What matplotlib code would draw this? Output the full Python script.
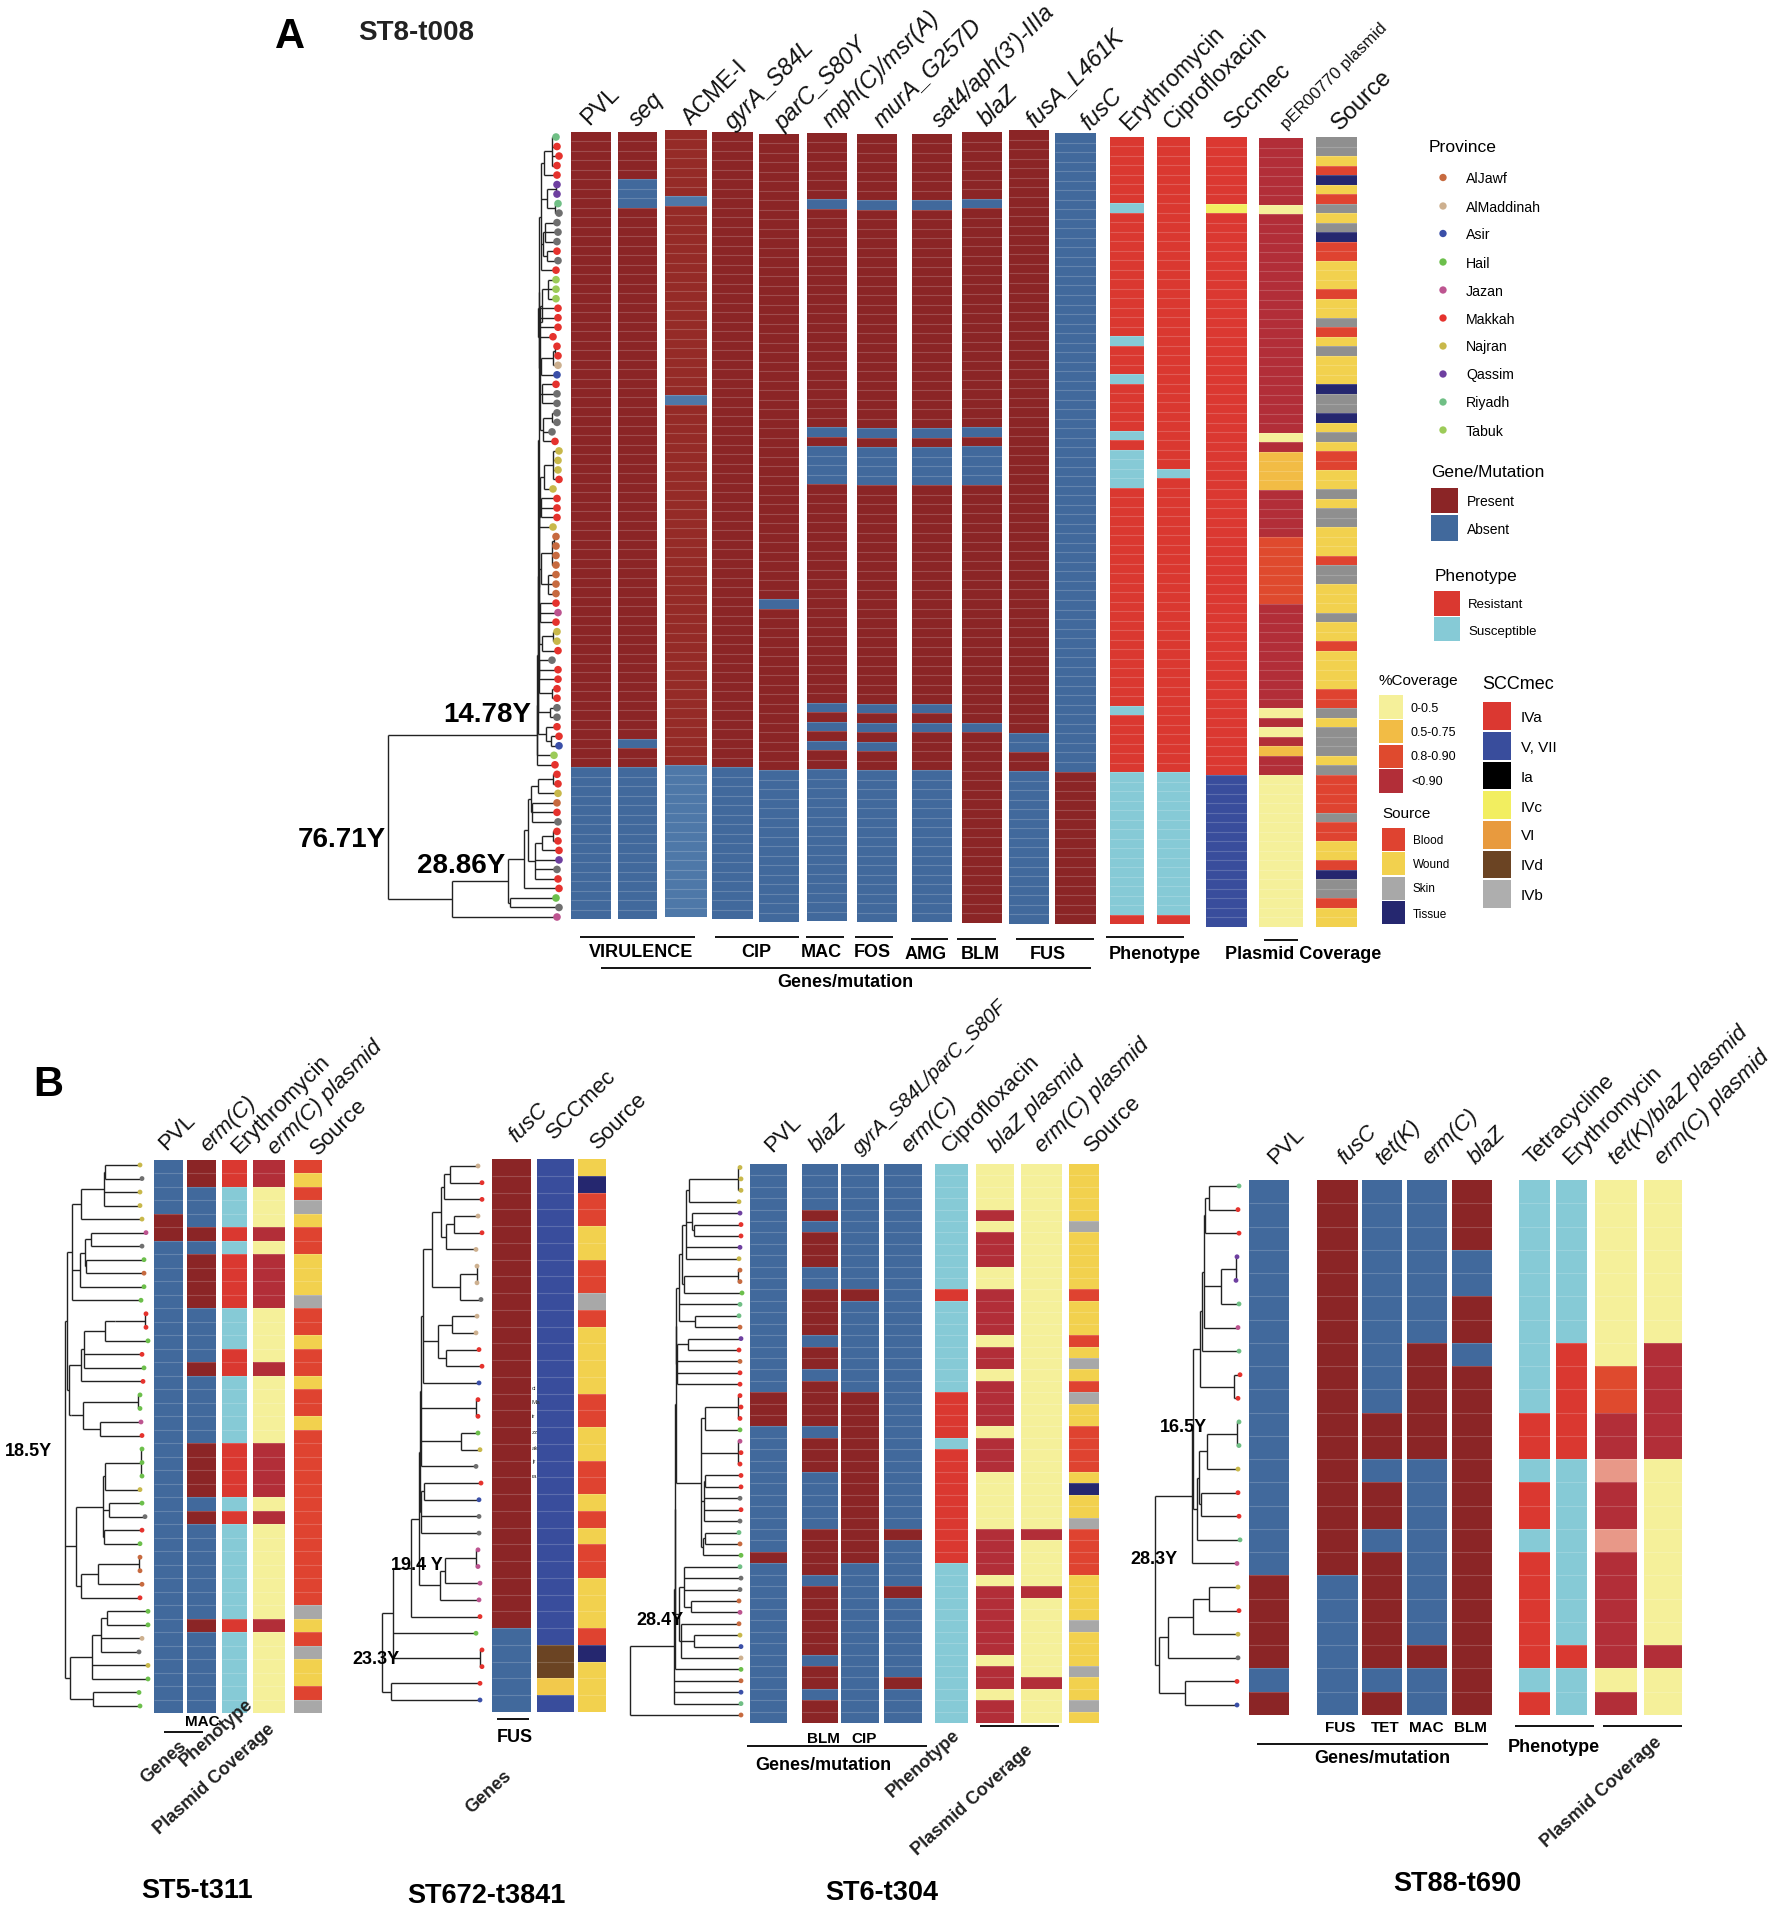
import numpy as np
import matplotlib
matplotlib.use("Agg")
import matplotlib.pyplot as plt
from matplotlib.collections import LineCollection

plt.rcParams['font.family'] = ['Liberation Sans', 'DejaVu Sans']

# colours of the heatmap cells
cell_colors = {
    'P': '#8B2526', 'A': '#41699C', 'p': '#952B27', 'a': '#4E78A8',
    'R': '#DA3830', 'S': '#86CAD6',
    'D': '#B22E38', 'Y': '#F5F09A', 'O': '#F2BC45', 'E': '#DF4A2E', 'K': '#E89888',
    'B': '#DF4330', 'W': '#F2D14E', 'G': '#A8A8A8', 'g': '#8F8F8F', 'T': '#25276F',
    '4': '#DB3831', '5': '#394D9C', 'c': '#F2EE60', 'd': '#6B4423', 'w': '#F2C94C',
}
tip_colors = {
    'J': '#C76A3F', 'L': '#CDB08F', 'I': '#3A4FA8', 'H': '#6CBF4B', 'Z': '#BD5490',
    'M': '#E5322D', 'N': '#C8B84A', 'Q': '#6E3FA0', 'F': '#70BF85', 'U': '#9CCB58',
    'x': '#6F6F6F',
}

# ---- panel A data (runs: code + number of rows)
a_names = ['PVL', 'seq', 'ACME-I', 'gyrA_S84L', 'parC_S80Y', 'mph(C)/msr(A)', 'murA_G257D',
           "sat4/aph(3')-IIIa", 'blaZ', 'fusA_L461K', 'fusC', 'Erythromycin', 'Ciprofloxacin',
           'Sccmec', 'pER00770 plasmid', 'Source']
a_pvl = "P67 A16"
a_seq = "P5 A3 P56 A1 P2 A16"
a_acme = "p7 a1 p20 a1 p38 a16"
a_gyra = "P67 A16"
a_parc = "P49 A1 P17 A16"
a_mph = "P7 A1 P23 A1 P1 A4 P23 A1 P1 A1 P1 A1 P2 A16"
a_mura = "P7 A1 P23 A1 P1 A4 P23 A1 P1 A1 P1 A1 P2 A16"
a_sat4 = "P7 A1 P23 A1 P1 A4 P23 A1 P1 A1 P4 A16"
a_blaz = "P7 A1 P23 A1 P1 A4 P25 A1 P20"
a_fusa = "P63 A2 P2 A16"
a_fusc = "A67 P16"
a_ery = "R7 S1 R13 S1 R3 S1 R5 S1 R1 S4 R23 S1 R6 S15 R1"
a_cip = "R35 S1 R31 S15 R1"
a_scc = "47 c1 459 516"
a_per = "D7 Y1 D23 Y1 D1 O4 D5 E7 D11 Y1 D1 Y1 D1 O1 D2 Y16"
a_src = ("g2 W1 B1 T1 W1 B1 g1 W1 g1 T1 B2 W3 B1 W2 g1 B1 W1 g1 W3 T1 g2 T1 W1 g1 W1 B2 W2 g1 "
         "W1 g2 W3 B1 g2 W3 g1 W2 B1 W4 B2 g1 W1 g3 W1 g1 B4 g1 B2 W2 B1 T1 g2 B1 W2")
a_tips = ("F M M M M Q Q F x x x x M x M U U U M M M M M M L I M x x x x x M N N N M N "
          "M M M N J J J J J J J M Z M N N M x M M M M x x M M I U M "
          "M M N J M x M M M Q x M M H x Z")
a_tree = (388,
          (537,
           (537.5,
            (538,
             (538.5,
              (538.8,
               (539,
                (541, (544, (552, 556, 557, 559, 557), 557), (547, (556, 557, 557), (555, 558, 559)),
                 (543, (545, 557, 558, 557), (547, 557, 558)), 556),
                (540, (542, (548, 556, 556, 556), (538, 558, 558, 558, 553)),
                 (541, (553, (555, 557, 558), 558), 557),
                 (542, 556, 557, 557), (543, (552, 557, 557), 552, 555))),
               (539,
                (540, (544, (553, 559, 558, 558, 559), 553), (539, (541, 557, 557, 557), 553)),
                (539, (541, (552, (554, 556, 556), 556, 556), (548, 556, 556, 556)), (540, 556, 558, 556),
                 (542, (553, 557, 557), 558)),
                (539, 552, 558, 558, (552, 557, 557)))),
              (550, 557, 557)),
             (546, 557, (551, 559, 559))),
            554),
           555),
          (452,
           (508,
            (524,
             (528, (531, (538, (553, 557, 558), 558), (532, 557, 557, 558)),
              (535, (542, (553, 557, 558), 559), 559, 557, 558)),
             559),
            (510, 556, 559)),
           557))

# ---- panel B, ST5-t311
st5_names = ['PVL', 'erm(C)', 'Erythromycin', 'erm(C) plasmid', 'Source']
st5_pvl = "A4 P2 A35"
st5_erm = "P2 A3 P1 A1 P4 A4 P1 A5 P4 A1 P1 A7 P1 A6"
st5_ery = "R2 S3 R1 S1 R4 S3 R2 S5 R4 S1 R1 S7 R1 S6"
st5_pla = "D2 Y3 D1 Y1 D4 Y4 D1 Y5 D4 Y1 D1 Y7 D1 Y6"
st5_src = "B1 W1 B1 G1 W1 B2 W3 G1 B2 W1 B2 W1 B2 W1 B13 G1 W1 B1 G1 W2 B1 G1"
st5_tips = "N x N N N Z x H J H H M M H M H M H H Z M H H H N H x M H J J J M H H L x N H H H"
st5_tree = (65,
            (67,
             (72, (81, (104, (105, 140, 142), 140, 140), 142),
              (80, (85, (91, 146, 142), (86, 144, 144)), 144), 141),
             (69, (81, (84, (105, (115, (145, 146, 146)), 148), 142, 144), 143),
              (71, (83, (138, 140, 140), (100, 141, 142))))),
            (76, (103, (105, (141, 142, 142, 142), 140), (109, 142, 145), (104, 142, 140)),
             (81, (98, (139, 140, 140), 142), 140)),
            (70, (92, (101, (107, 148, 148), 142, 139), 148, 148), (93, 139, 140)))

# ---- panel B, ST672-t3841
st672_names = ['fusC', 'SCCmec', 'Source']
st672_fusc = "P28 A5"
st672_scc = "529 d2 w1 51"
st672_src = "W1 T1 B2 W2 B2 G1 B1 W4 B2 W2 B2 W1 B1 W1 B2 W3 B1 T1 W3"
st672_tips = "L M M L M L L L x L L M M I M M H N x M I x x Z Z Z Z M H M M M I"
st672_tree = (382,
              (393,
               (411,
                (419,
                 (420,
                  (421,
                   (423, (432, (441, (444, (450, 478, 482), 482), (446, (454, 478, 482), 476)),
                          (460, (477, 477, 477), 481)),
                    (438, (452, 477, 476), (446, 479, 482)), 479),
                   (476, 478, 478), (461, 478, 480), 476),
                  (421, (424, 481, 479), 479, 479)),
                 (440, (445, (476, 478, 478), 480), 479)),
                480),
               476, (480, 482, 482)),
              (391, 480, 480))

# ---- panel B, ST6-t304
st6_names = ['PVL', 'blaZ', 'gyrA_S84L/parC_S80F', 'erm(C)', 'Ciprofloxacin', 'blaZ plasmid',
             'erm(C) plasmid', 'Source']
st6_pvl = "A20 P3 A11 P1 A14"
st6_blaz = "A4 P1 A1 P3 A2 P4 A1 P2 A1 P4 A1 P3 A5 P4 A1 P6 A1 P2 A1 P2"
st6_gyra = "A11 P1 A8 P15 A14"
st6_erm = "A32 P1 A4 P1 A7 P1 A3"
st6_cip = "S11 R1 S8 R4 S1 R10 S14"
st6_pbla = "Y4 D1 Y1 D3 Y2 D4 Y1 D2 Y1 D4 Y1 D3 Y5 D4 Y1 D6 Y1 D2 Y1 D2"
st6_perm = "Y32 D1 Y4 D1 Y7 D1 Y3"
st6_src = "W5 G1 W5 B1 W3 B1 W1 G1 W1 B1 G1 W2 B4 W1 T1 W2 G1 B4 W4 G1 W3 G1 W2 G1 W1"
st6_tips = ("N N N N Q M M Q N J J H F F J Q M J M M M M M H Z M M M M x M x F J H F x x J Z J N I L "
            "H J I F J")
st6_tree = (630,
            (674,
             (675,
              (675.5,
               (676,
                (676.5,
                 (679,
                  (682, (686, (689, (738, 740, 741, 741), 739), (692, 740, (694, 741, 741)), 740, 739),
                   (684, (738, 740, 740), 742)),
                  740, (695, 739, 740)),
                 (677, (688, 741, 739), 740, 740, 740)),
                (701, (705, (738, 740, 741, 740), 740), (738, 740, 741, 740),
                 (704, (705, 741, 741), 740, 741, 740), (703, (705, 739, 740), 741))),
               (679, (684, 740, 741, 740, (691, 739, 740)), (681, 739, (694, 740, 741), 741))),
              741),
             741, 741, 741),
            741)

# ---- panel B, ST88-t690
st88_names = ['PVL', 'fusC', 'tet(K)', 'erm(C)', 'blaZ', 'Tetracycline', 'Erythromycin',
              'tet(K)/blaZ plasmid', 'erm(C) plasmid']
st88_pvl = "A17 P4 A1 P1"
st88_fusc = "P17 A6"
st88_tet = "A10 P2 A1 P2 A1 P5 A1 P1"
st88_erm = "A7 P5 A8 P1 A2"
st88_blaz = "P3 A2 P2 A1 P15"
st88_tetr = "S10 R2 S1 R2 S1 R5 S1 R1"
st88_ery = "S7 R5 S8 R1 S2"
st88_ptet = "Y8 E2 D2 K1 D2 K1 D5 Y1 D1"
st88_perm = "Y7 D5 Y8 D1 Y2"
st88_tips = "F M M Q Q F Z F M M F F N M M F Z N M N x M I"
st88_tree = (1155,
             (1192,
              (1193,
               (1200, (1202, (1204, (1205, (1209, 1239, 1238), 1239), (1221, (1236, 1237, 1236), 1239), 1238), 1239),
                (1234, 1240, 1238)),
               (1197, (1199, (1207, (1237, 1239, 1239), 1238), (1201, 1238, 1239)), 1240)),
              1237),
             (1159, (1168, (1193, (1209, 1238, 1239), 1238), 1238), (1185, 1237, 1237)))

# legend entries
prov_names = ['AlJawf', 'AlMaddinah', 'Asir', 'Hail', 'Jazan', 'Makkah', 'Najran', 'Qassim', 'Riyadh', 'Tabuk']
prov_codes = ['J', 'L', 'I', 'H', 'Z', 'M', 'N', 'Q', 'F', 'U']

# the whole figure is one axes, in pixels of the 1772x1909 picture
fig = plt.figure(figsize=(17.72, 19.09), dpi=100)
ax = fig.add_axes([0, 0, 1, 1])
ax.set_xlim(0, 1772)
ax.set_ylim(1909, 0)
ax.axis('off')


def draw_column(runs, x0, x1, top, bottom, n):
    """one heatmap column from a run string, rows get a faint lighter line"""
    codes = []
    for tok in runs.split():
        codes += [tok[0]] * int(tok[1:])
    assert len(codes) == n
    h = (bottom - top) / n
    ys = top + h * np.arange(n)
    ax.bar(np.full(n, x0), np.full(n, h), width=x1 - x0, bottom=ys, align='edge',
           color=[cell_colors[c] for c in codes], linewidth=0, zorder=2)
    ax.hlines(ys[1:], x0, x1, color='white', alpha=0.18, lw=0.8, zorder=3)


def draw_tree(tree, tips, y0, y1, msize):
    """tree = (x, child, child...), a plain number is a tip"""
    codes = tips.split()
    ys = np.linspace(y0, y1, len(codes))
    segs, tx, ty = [], [], []
    count = [0]

    def walk(node, parent_x):
        if not isinstance(node, tuple):
            y = ys[count[0]]
            count[0] += 1
            tx.append(node)
            ty.append(y)
        else:
            child_y = [walk(c, node[0]) for c in node[1:]]
            y = (child_y[0] + child_y[-1]) / 2
            segs.append([(node[0], child_y[0]), (node[0], child_y[-1])])
        x = node if not isinstance(node, tuple) else node[0]
        if parent_x is not None:
            segs.append([(parent_x, y), (x, y)])
        return y

    walk(tree, None)
    assert count[0] == len(codes)
    ax.add_collection(LineCollection(segs, colors='#222222', linewidths=1.0, zorder=2))
    ax.scatter(tx, ty, s=msize, c=[tip_colors[c] for c in codes], linewidths=0, zorder=4)


def col_labels(names, xs, ys, size, plain, rot=45):
    for name, x, y in zip(names, xs, ys):
        style = 'normal' if name in plain else 'italic'
        ax.text(x, y, name, rotation=rot, rotation_mode='anchor', ha='left', va='baseline',
                fontsize=size, style=style, color='#111111')


def bold(x, y, s, size=13, rot=0):
    ax.text(x, y + size * 0.15, s, ha='center', va='center', fontsize=size, fontweight='bold', rotation=rot, color='black')


def rotlab(x, y, s):
    ax.text(x, y, s, ha='center', va='center', rotation=42, fontsize=13, fontweight='bold', color='#222222')


def rule(x0, x1, y):
    ax.plot([x0, x1], [y, y], color='black', lw=1.3, solid_capstyle='butt')


def legtext(x, y, s, size):
    ax.text(x, y + 1.5, s, fontsize=size, va='center')


# ---- panel A
a_left = [571, 618, 665, 712, 759, 807, 857, 912, 962, 1009, 1055, 1110, 1157, 1206, 1259, 1316]
a_right = [611, 657, 707, 753, 799, 847, 897, 952, 1002, 1049, 1096, 1144, 1190, 1247, 1303, 1357]
a_top = [132, 132, 130, 132, 134, 133, 134, 134, 132, 130, 133, 137, 137, 137, 138, 137]
a_bot = [919, 919, 917, 919, 922, 921, 922, 922, 923, 924, 924, 924, 924, 927, 927, 927]
a_cols = [a_pvl, a_seq, a_acme, a_gyra, a_parc, a_mph, a_mura, a_sat4, a_blaz, a_fusa, a_fusc,
          a_ery, a_cip, a_scc, a_per, a_src]
for i, runs in enumerate(a_cols):
    draw_column(runs, a_left[i], a_right[i], a_top[i], a_bot[i], 83)
draw_tree(a_tree, a_tips, 137, 917, 30)

a_lx = [589, 637, 691, 733, 783, 831, 882, 940, 987, 1034, 1089, 1129, 1172, 1233, 1287, 1340]
a_ly = [126, 127, 126, 130, 131, 128, 128, 128, 127, 128, 131, 131, 130, 130, 130, 131]
plain_a = ['PVL', 'ACME-I', 'Erythromycin', 'Ciprofloxacin', 'Sccmec', 'Source']
col_labels(a_names[:14], a_lx[:14], a_ly[:14], 16.8, plain_a)
ax.text(a_lx[14], a_ly[14], a_names[14], rotation=45, rotation_mode='anchor', fontsize=12.2, color='#111111')
ax.text(a_lx[15], a_ly[15], a_names[15], rotation=45, rotation_mode='anchor', fontsize=17, color='#111111')

bold(290, 33, 'A', 30)
ax.text(416, 33, 'ST8-t008', ha='center', va='center', fontsize=20, fontweight='bold', color='#222222')
bold(487, 712, '14.78Y', 20)
bold(342, 837, '76.71Y', 20)
bold(461, 863, '28.86Y', 20)

for x0, x1, y in [(580, 695, 937), (715, 799, 937), (806, 844, 937), (855, 893, 937), (911, 948, 939),
                  (957, 996, 939), (1016, 1094, 939), (1106, 1184, 937), (1264, 1298, 940), (601, 1091, 968)]:
    rule(x0, x1, y)
for x, y, s in [(641, 951, 'VIRULENCE'), (756, 951, 'CIP'), (821, 951, 'MAC'), (872, 951, 'FOS'),
                (926, 953, 'AMG'), (980, 953, 'BLM'), (1048, 953, 'FUS'), (1155, 953, 'Phenotype'),
                (1303, 953, 'Plasmid Coverage'), (845, 981, 'Genes/mutation')]:
    bold(x, y, s, 13)

# ---- legends
legtext(1429, 146, 'Province', 12.6)
prov_y = [177.5, 206, 233.5, 262, 290, 318, 346, 374, 402, 430]
ax.scatter([1443] * 10, prov_y, s=28, c=[tip_colors[c] for c in prov_codes], linewidths=0)
for y, s in zip(prov_y, prov_names):
    legtext(1466, y, s, 10.2)


def swatches(x0, x1, ys, colors):
    for (y0, y1), c in zip(ys, colors):
        ax.bar(x0, y1 - y0, width=x1 - x0, bottom=y0, align='edge', color=c, linewidth=0)


legtext(1431, 471, 'Gene/Mutation', 12.4)
swatches(1431, 1458, [(488, 513), (515, 541)], [cell_colors['P'], cell_colors['A']])
legtext(1467, 501, 'Present', 10)
legtext(1467, 529, 'Absent', 10)

legtext(1435, 574.5, 'Phenotype', 12.4)
swatches(1434, 1460, [(591, 616), (617, 641)], [cell_colors['R'], cell_colors['S']])
legtext(1468, 604, 'Resistant', 9.5)
legtext(1468, 630, 'Susceptible', 9.5)

legtext(1379, 680, '%Coverage', 11)
swatches(1379, 1403, [(695, 719), (720, 743), (745, 768), (769, 793)],
         [cell_colors['Y'], cell_colors['O'], cell_colors['E'], cell_colors['D']])
for y, s in zip([707, 732, 756, 780.5], ['0-0.5', '0.5-0.75', '0.8-0.90', '<0.90']):
    legtext(1411, y, s, 9)

legtext(1382, 812, 'Source', 11)
swatches(1382, 1405, [(828, 851), (852, 875), (877, 900), (901, 924)],
         [cell_colors['B'], cell_colors['W'], cell_colors['G'], cell_colors['T']])
for y, s in zip([840, 864, 888, 913], ['Blood', 'Wound', 'Skin', 'Tissue']):
    legtext(1413, y, s, 8.5)

legtext(1482, 683, 'SCCmec', 13)
swatches(1483, 1511, [(702, 730), (732, 760), (762, 789), (791, 819), (821, 849), (851, 878), (880, 908)],
         [cell_colors['4'], cell_colors['5'], '#000000', cell_colors['c'], '#E89A3E', cell_colors['d'], '#AEAEAE'])
for y, s in zip([716, 746, 776, 806, 835, 865, 895], ['IVa', 'V, VII', 'Ia', 'IVc', 'VI', 'IVd', 'IVb']):
    legtext(1521, y, s, 11)

# ---- panel B
bold(48, 1081, 'B', 30)
plain_b = ['PVL', 'Erythromycin', 'Ciprofloxacin', 'Tetracycline', 'SCCmec', 'Source']

# ST5
st5_left = [154, 187, 222, 253, 294]
st5_right = [183, 216, 247, 285, 322]
for i, runs in enumerate([st5_pvl, st5_erm, st5_ery, st5_pla, st5_src]):
    draw_column(runs, st5_left[i], st5_right[i], 1160, 1713, 41)
draw_tree(st5_tree, st5_tips, 1165, 1706, 12)
col_labels(st5_names, [166, 208, 239, 275, 318], [1151, 1152, 1154, 1155, 1156], 16, plain_b)
bold(28, 1450, '18.5Y', 13)
rule(164, 203, 1732)
bold(202, 1720, 'MAC', 11)
rotlab(164, 1762, 'Genes')
rotlab(216, 1733, 'Phenotype')
rotlab(214, 1779, 'Plasmid Coverage')
bold(197, 1888, 'ST5-t311', 19.5)

# ST672
st672_left = [492, 537, 578]
st672_right = [531, 574, 606]
for i, runs in enumerate([st672_fusc, st672_scc, st672_src]):
    draw_column(runs, st672_left[i], st672_right[i], 1159, 1712, 33)
draw_tree(st672_tree, st672_tips, 1166, 1700, 12)
col_labels(st672_names, [516, 554, 598], [1143, 1140, 1150], 16, plain_b)
for y, s in zip([1388, 1403, 1417, 1432, 1448, 1462, 1477], ['ci', 'Ma', 'ir', 'zz', 'ak', 'jr', 'ra']):
    ax.text(532, y, s, fontsize=4.5, va='center', color='#333333')
bold(417, 1564, '19.4 Y', 13)
bold(376, 1658, '23.3Y', 13)
rule(497, 529, 1719)
bold(515, 1736, 'FUS', 13)
rotlab(489, 1792, 'Genes')
bold(486, 1893, 'ST672-t3841', 19.5)

# ST6
st6_left = [750, 802, 841, 884, 935, 976, 1021, 1069]
st6_right = [787, 838, 879, 922, 968, 1014, 1062, 1099]
for i, runs in enumerate([st6_pvl, st6_blaz, st6_gyra, st6_erm, st6_cip, st6_pbla, st6_perm, st6_src]):
    draw_column(runs, st6_left[i], st6_right[i], 1164, 1723, 49)
draw_tree(st6_tree, st6_tips, 1167.5, 1715, 12)
st6_lx = [772, 817, 860, 909, 949, 996, 1042, 1092]
st6_other = [0, 1, 3, 4, 5, 6, 7]
col_labels([st6_names[i] for i in st6_other], [st6_lx[i] for i in st6_other], [1153] * 7, 16, plain_b)
col_labels([st6_names[2]], [st6_lx[2]], [1155], 14.6, plain_b)
bold(660, 1619, '28.4Y', 13)
rule(747, 927, 1745.5)
rule(980, 1059, 1726)
bold(823, 1737, 'BLM', 11)
bold(864, 1737, 'CIP', 11)
bold(823, 1763.5, 'Genes/mutation', 13)
rotlab(923, 1764, 'Phenotype')
rotlab(972, 1800, 'Plasmid Coverage')
bold(882, 1890, 'ST6-t304', 19.5)

# ST88
st88_left = [1249, 1317, 1362, 1407, 1452, 1519, 1556, 1595, 1644]
st88_right = [1289, 1358, 1402, 1447, 1492, 1550, 1587, 1637, 1682]
for i, runs in enumerate([st88_pvl, st88_fusc, st88_tet, st88_erm, st88_blaz, st88_tetr, st88_ery, st88_ptet, st88_perm]):
    draw_column(runs, st88_left[i], st88_right[i], 1180, 1715, 23)
draw_tree(st88_tree, st88_tips, 1186, 1705, 12)
col_labels(st88_names, [1275, 1345, 1383, 1430, 1476, 1532, 1571, 1616, 1662], [1165] * 9, 16, plain_b)
bold(1183, 1426, '16.5Y', 13)
bold(1154, 1558, '28.3Y', 13)
rule(1257, 1488, 1743.6)
rule(1515, 1594, 1726)
rule(1603, 1682, 1726)
for x, s in [(1340, 'FUS'), (1385, 'TET'), (1426, 'MAC'), (1470, 'BLM')]:
    bold(x, 1726, s, 11)
bold(1382, 1757, 'Genes/mutation', 13)
bold(1553.5, 1746, 'Phenotype', 13)
rotlab(1601, 1792, 'Plasmid Coverage')
bold(1457, 1881, 'ST88-t690', 19.5)

fig.savefig('out.png', dpi=100)
